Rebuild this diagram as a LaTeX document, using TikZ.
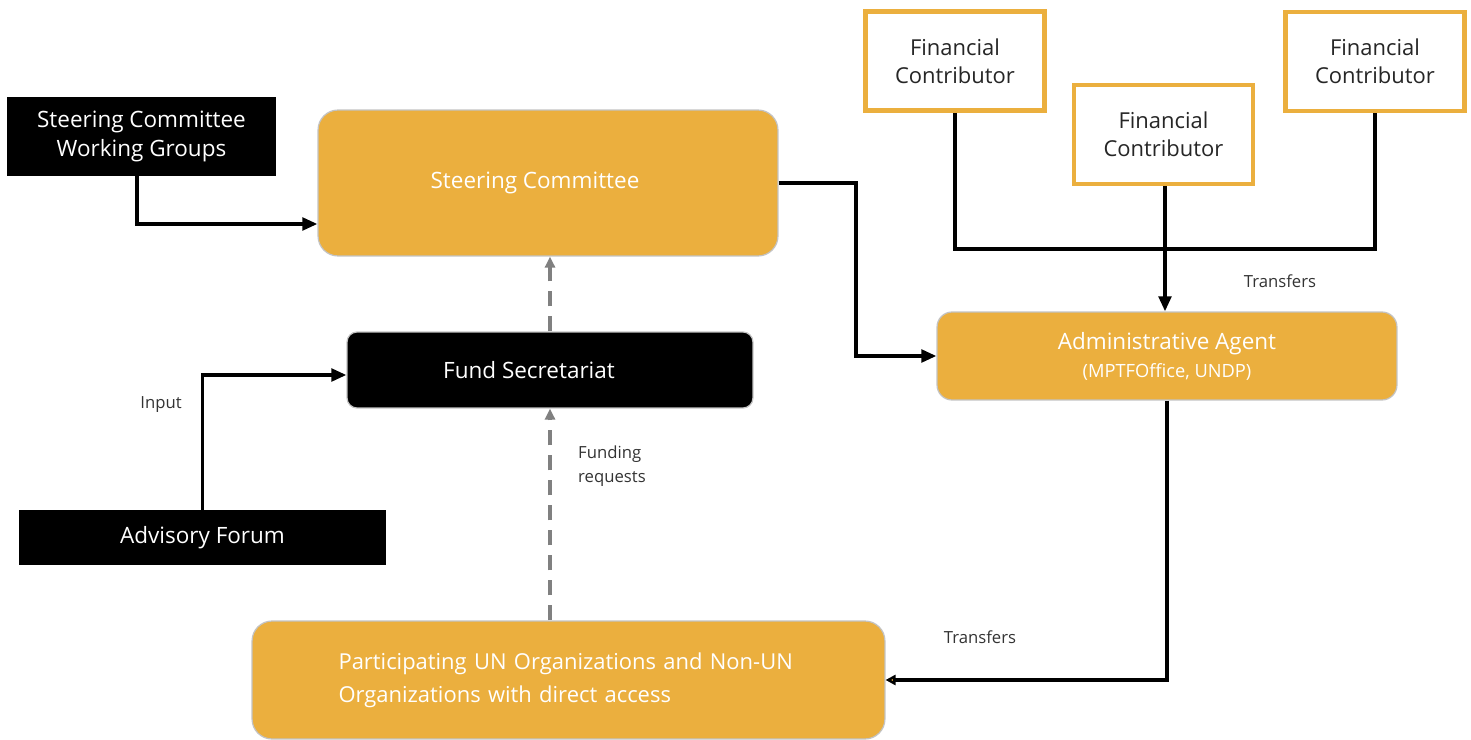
\documentclass[tikz,border=0pt]{standalone}
\usepackage{fontspec}
\setmainfont{Open Sans}
\usepackage{xcolor}
\usetikzlibrary{arrows.meta, positioning}

\definecolor{fundorange}{RGB}{235,175,62}
\definecolor{edgegray}{RGB}{195,195,195}
\definecolor{dashgray}{RGB}{128,128,128}

\begin{document}
\begin{tikzpicture}[x=0.02cm, y=-0.02cm,
		orangebox/.style={fill=fundorange, draw=edgegray, line width=0.7pt, rounded corners=0.4cm, text=white, font=\fontsize{12.8}{16}\selectfont, align=center},
		blackbox/.style={fill=black, text=white, font=\fontsize{12.8}{16}\selectfont, align=center},
		donorbox/.style={fill=white, draw=fundorange, line width=2.8pt, text=black!85, font=\fontsize{12.5}{16}\selectfont, align=center, minimum width=3.58cm, minimum height=1.98cm},
		link/.style={line width=2pt},
		flow/.style={link, -{Triangle[length=0.3cm, width=0.25cm]}},
		request/.style={dashgray, line width=2pt, dash pattern=on 0.3cm off 0.2cm, -{Triangle[length=0.22cm, width=0.2cm]}},
		note/.style={text=black!80, font=\fontsize{9.5}{14}\selectfont, align=left}]

					\useasboundingbox (0,0) rectangle (1471,740);

					\begin{scope}
						\node[blackbox, minimum width=5.38cm, minimum height=1.58cm] (scwg) at (141.5,136.5) {Steering Committee\\Working Groups};
						\node[orangebox, minimum width=9.2cm, minimum height=2.92cm] (sc) at (548,183) {\hspace*{-0.52cm}Steering Committee};
						\node[blackbox, draw=edgegray, line width=0.7pt, rounded corners=0.2cm, minimum width=8.12cm, minimum height=1.52cm] (fs) at (550,370) {\hspace*{-0.84cm}Fund Secretariat};
						\node[blackbox, minimum width=7.34cm, minimum height=1.1cm] (af) at (202.5,537.5) {Advisory Forum};
						\node[orangebox, align=left, font=\fontsize{12.5}{19}\selectfont, text width=9.2cm, inner xsep=1.73cm, minimum height=2.36cm] (part) at (568.5,680) {Participating UN Organizations and Non-UN\\Organizations with direct access};
						\node[orangebox, rounded corners=0.3cm, minimum width=9.2cm, minimum height=1.76cm] (aa) at (1167,356) {Administrative Agent\\{\fontsize{10.4}{12}\selectfont (MPTFOffice, UNDP)}};
					\end{scope}

					\begin{scope}
						\foreach \n/\x/\y in {fcA/955/61, fcB/1163.5/134.5, fcC/1375/61.5}
						{
							\node[donorbox] (\n) at (\x,\y) {Financial\\Contributor};
						}
					\end{scope}

					\begin{scope}
						\coordinate (join) at (1165,249);
						\coordinate (bend) at (856,0);
						\draw[link] (fcA.south) |- (join) -| (fcC.south);
						\draw[flow] (fcB.south -| join) -- (join |- aa.north);
						\draw[flow] ([xshift=-0.09cm]scwg.south) |- ([yshift=-0.82cm]sc.west);
						\draw[flow] (sc.east) -- (sc.east -| bend) |- (aa.west);
						\draw[link, -{Triangle[length=0.2cm, width=0.2cm, fill=fundorange]}] (aa.south) |- (part.east);
						\draw[flow] (af.north) |- ([yshift=-0.1cm]fs.west);
						\draw[request] (fs.south |- part.north) -- (fs.south);
						\draw[request] (fs.north) -- (fs.north |- sc.south);
					\end{scope}

					\begin{scope}
						\node[note] (tr1) at (1280,281) {Transfers};
						\node[note] (tr2) at (980,637) {Transfers};
						\node[note] (inp) at (161,405) {Input};
						\node[note, anchor=west] (freq) at (572,466) {Funding\\requests};
					\end{scope}
				\end{tikzpicture}
\end{document}
